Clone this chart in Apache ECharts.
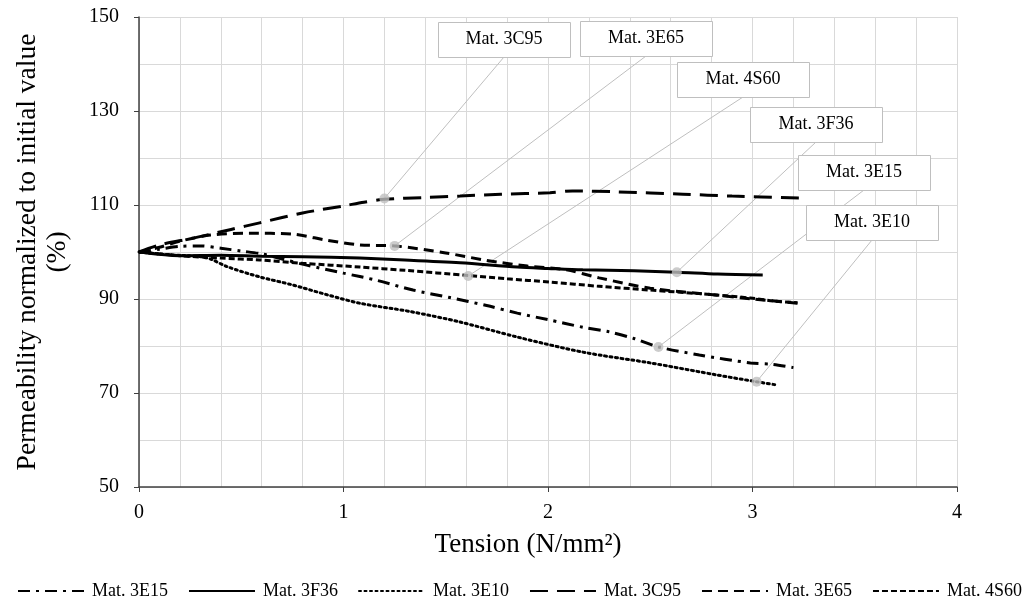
<!DOCTYPE html>
<html><head><meta charset="utf-8">
<script src="https://cdn.jsdelivr.net/npm/echarts@6/dist/echarts.min.js"></script>
<style>html,body{margin:0;padding:0;background:#fff}#c{width:1028px;height:603px}</style>
</head><body><div id="c"></div><script>
// ---- data ----
const names = ['Mat. 3E15', 'Mat. 3F36', 'Mat. 3E10', 'Mat. 3C95', 'Mat. 3E65', 'Mat. 4S60'];
const s3E15 = [[0,100],[0.1,100.6],[0.2,101.2],[0.3,101.3],[0.4,100.8],[0.5,100.2],[0.6,99.6],[0.7,98.5],[0.82,97.2],[1.0,95.5],[1.16,94.0],[1.34,91.9],[1.52,90.3],[1.7,88.6],[1.85,87.0],[2.0,85.6],[2.17,84.0],[2.3,83.0],[2.42,81.6],[2.54,79.8],[2.74,78.1],[2.99,76.4],[3.1,76.1],[3.2,75.4]];
const s3F36 = [[0,100],[0.1,99.5],[0.2,99.2],[0.4,99.3],[0.6,99.1],[0.8,99.0],[1.08,98.7],[1.3,98.3],[1.57,97.7],[1.85,96.8],[2.0,96.5],[2.17,96.2],[2.42,96.0],[2.63,95.7],[2.83,95.3],[3.05,95.1]];
const s3E10 = [[0,100],[0.1,99.6],[0.2,99.3],[0.3,99.0],[0.35,98.5],[0.43,96.9],[0.59,94.7],[0.75,93.0],[0.92,90.9],[1.08,89.1],[1.33,87.3],[1.57,85.1],[1.85,81.9],[2.17,78.7],[2.5,76.4],[2.83,73.8],[3.02,72.4],[3.12,71.7]];
const s3C95 = [[0,100],[0.1,101.5],[0.27,103.0],[0.45,104.8],[0.59,106.2],[0.8,108.3],[1.0,109.8],[1.1,110.6],[1.2,111.2],[1.4,111.6],[1.57,111.9],[1.77,112.3],[2.01,112.6],[2.12,113.0],[2.34,112.8],[2.66,112.3],[2.9,111.9],[3.23,111.5]];
const s3E65 = [[0,100],[0.1,101.0],[0.2,102.3],[0.35,103.6],[0.54,104.0],[0.75,103.8],[0.92,102.5],[1.08,101.5],[1.25,101.3],[1.5,99.8],[1.7,98.2],[1.9,97.0],[2.09,96.2],[2.25,94.5],[2.5,92.3],[2.83,90.8],[3.0,90.0],[3.22,89.1]];
const s4S60 = [[0,100],[0.2,99.2],[0.4,98.7],[0.59,98.3],[0.8,97.6],[1.08,96.8],[1.3,96.1],[1.61,95.0],[1.8,94.3],[2.01,93.6],[2.25,92.7],[2.5,91.9],[2.75,91.1],[2.99,90.2],[3.1,89.6],[3.22,89.2]];
// callout labels and their anchor points on the curves
const calloutNames = ['Mat. 3C95', 'Mat. 3E65', 'Mat. 4S60', 'Mat. 3F36', 'Mat. 3E15', 'Mat. 3E10'];
const calloutX = [1.2, 1.25, 1.61, 2.63, 2.54, 3.02];
const calloutY = [111.4, 101.3, 94.9, 95.7, 79.8, 72.4];
const xTicks = [0, 1, 2, 3, 4];
const yTicks = [50, 70, 90, 110, 130, 150];

// ---- layout / style ----
const boxPos = [[438,22],[580,21],[677,62],[750,107],[798,155],[806,205]];
const boxW = 132, boxH = 35;
const FONT = 'Liberation Serif';
const seriesData = [s3E15, s3F36, s3E10, s3C95, s3E65, s4S60];
const dashes = [[12,6,3,6], 'solid', [2,3.5], [18,9], [10,6], [6,3]];

const chart = echarts.init(document.getElementById('c'), null, {renderer: 'canvas'});
const series = seriesData.map((d, i) => ({
  name: names[i], type: 'line', data: d, symbol: 'none', smooth: 0.3,
  lineStyle: {color: '#000', width: 3, type: dashes[i], cap: i === 2 ? 'round' : 'butt'},
  itemStyle: {color: '#000'}, z: 3
}));
series.push({
  name: 'callouts', type: 'scatter', symbolSize: 10, z: 5,
  itemStyle: {color: '#bfbfbf'},
  data: calloutX.map((x, i) => [x, calloutY[i]])
});

chart.setOption({
  animation: false,
  textStyle: {fontFamily: FONT},
  grid: {left: 139, right: 71, top: 17, bottom: 116},
  xAxis: {
    type: 'value', min: xTicks[0], max: xTicks[xTicks.length-1], interval: 1,
    name: 'Tension (N/mm²)', nameLocation: 'middle', nameGap: 44,
    nameTextStyle: {fontFamily: FONT, fontSize: 27, color: '#000', padding: [0, 40, 0, 0]},
    axisLine: {lineStyle: {color: '#404040', width: 1.5}},
    axisTick: {show: true, length: 5, lineStyle: {color: '#404040'}},
    axisLabel: {fontFamily: FONT, fontSize: 20, color: '#000', margin: 16},
    splitLine: {show: true, lineStyle: {color: '#d9d9d9', width: 1}},
    minorTick: {show: false, splitNumber: 5},
    minorSplitLine: {show: true, lineStyle: {color: '#d9d9d9', width: 1}}
  },
  yAxis: {
    type: 'value', min: yTicks[0], max: yTicks[yTicks.length-1], interval: 20,
    name: 'Permeability normalized to initial value\n(%)', nameLocation: 'middle', nameGap: 66,
    nameTextStyle: {fontFamily: FONT, fontSize: 27.5, color: '#000', lineHeight: 30},
    axisLine: {show: true, lineStyle: {color: '#404040', width: 1.5}},
    axisTick: {show: true, length: 5, lineStyle: {color: '#404040'}},
    axisLabel: {fontFamily: FONT, fontSize: 20, color: '#000', margin: 20},
    splitLine: {show: true, lineStyle: {color: '#d9d9d9', width: 1}},
    minorTick: {show: false, splitNumber: 2},
    minorSplitLine: {show: true, lineStyle: {color: '#d9d9d9', width: 1}}
  },
  legend: {
    data: names, top: 577, left: 12, itemWidth: 66, itemHeight: 12, itemGap: 20,
    itemStyle: {opacity: 0},
    textStyle: {fontFamily: FONT, fontSize: 18, color: '#000', padding: [0, 0, 0, 3]}
  },
  series: series
});

// callout boxes and leader lines
const graphics = [];
calloutX.forEach((x, i) => {
  const p = chart.convertToPixel({gridIndex: 0}, [x, calloutY[i]]);
  const bx = boxPos[i][0], by = boxPos[i][1];
  graphics.push({type: 'line', silent: true, z: 1,
    shape: {x1: p[0], y1: p[1], x2: bx + boxW/2, y2: by + boxH},
    style: {stroke: '#bfbfbf', lineWidth: 1}});
  graphics.push({type: 'rect', silent: true, z: 10,
    shape: {x: bx + 0.5, y: by + 0.5, width: boxW, height: boxH},
    style: {fill: '#fff', stroke: '#bfbfbf', lineWidth: 1}});
  graphics.push({type: 'text', silent: true, z: 11,
    x: bx + boxW/2, y: by + boxH/2,
    style: {text: calloutNames[i], font: '18px "Liberation Serif"', fill: '#000', align: 'center', verticalAlign: 'middle'}});
});
chart.setOption({graphic: graphics});
</script></body></html>
